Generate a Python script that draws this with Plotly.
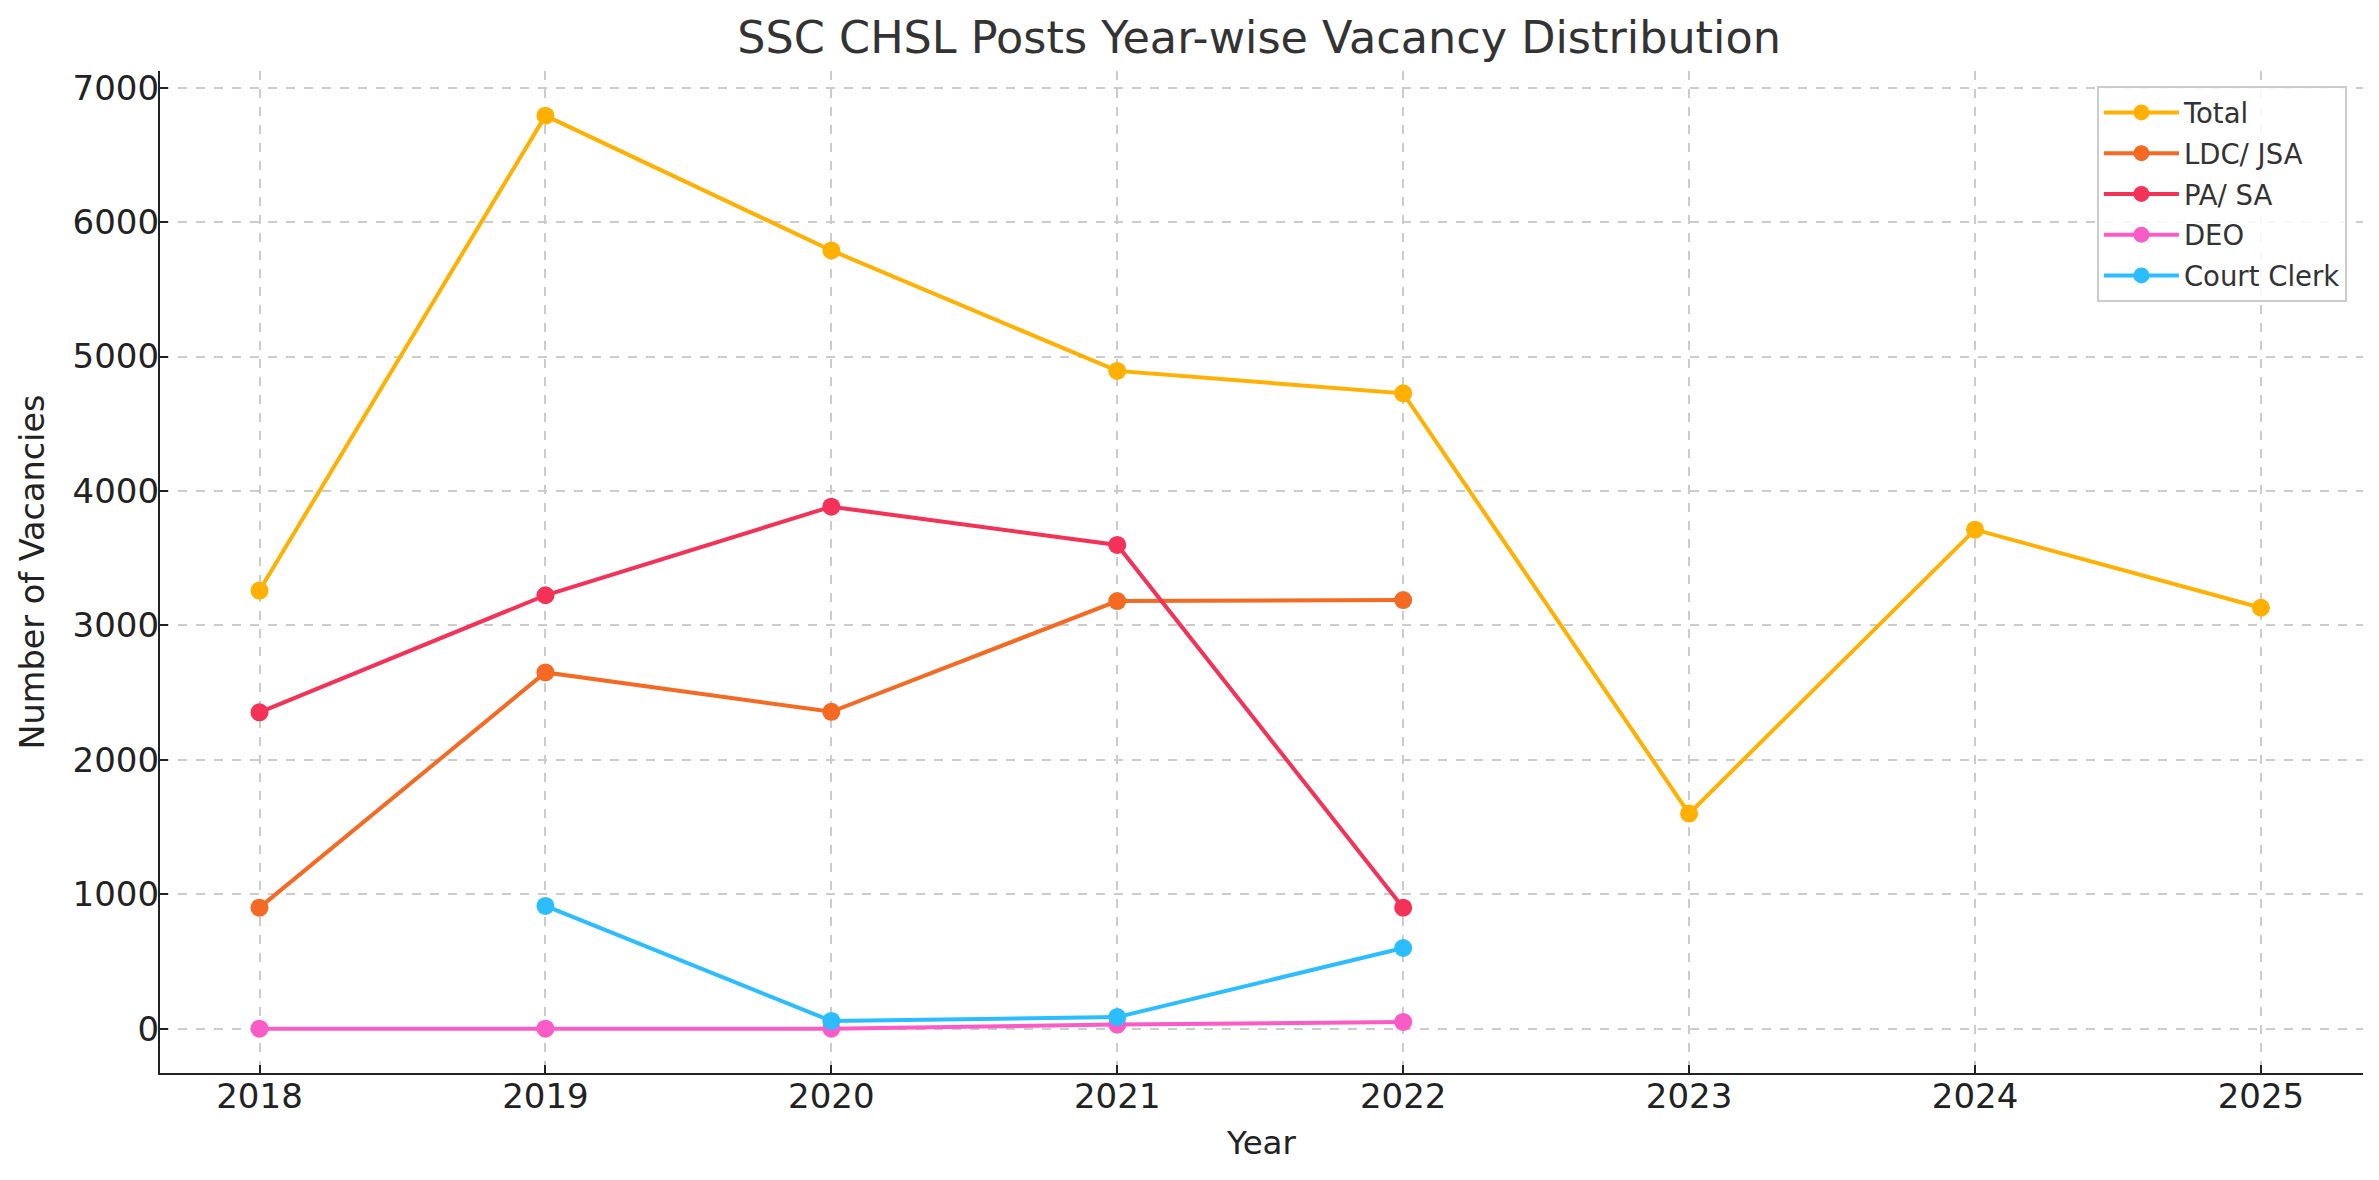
import plotly.graph_objects as go

years = [2018, 2019, 2020, 2021, 2022, 2023, 2024, 2025]
total = [3259, 6792, 5789, 4893, 4726, 1600, 3712, 3131]
ldc_jsa = [900, 2650, 2357, 3181, 3188, None, None, None]
pa_sa = [2353, 3224, 3883, 3598, 900, None, None, None]
deo = [0, 0, 0, 30, 50, None, None, None]
court_clerk = [None, 913, 57, 86, 600, None, None, None]

series_names = ["Total", "LDC/ JSA", "PA/ SA", "DEO", "Court Clerk"]
series_values = [total, ldc_jsa, pa_sa, deo, court_clerk]
colors = ["#FFB000", "#F46A22", "#F43257", "#FA5BC7", "#2BBDFF"]

FONT = "DejaVu Sans"

fig = go.Figure()
for name, vals, col in zip(series_names, series_values, colors):
    fig.add_trace(go.Scatter(
        x=years, y=vals, name=name, mode="lines+markers",
        line=dict(color=col, width=4),
        marker=dict(color=col, size=18),
        connectgaps=False, legendgroup=name,
    ))

axis_common = dict(
    showline=True, linecolor="#222222", linewidth=2.2, mirror=False,
    ticks="inside", ticklen=8, tickwidth=1.5, tickcolor="#222222",
    showgrid=True, gridcolor="#cccccc", gridwidth=1.5, griddash="dash",
    zeroline=False, automargin=False,
    tickfont=dict(family=FONT, size=34, color="#222222"),
)

fig.update_xaxes(
    **axis_common,
    range=[2017.652, 2025.357],
    tickmode="array", tickvals=years, ticktext=[str(y) for y in years],
    title=dict(text="Year", font=dict(family=FONT, size=32.5, color="#222222"), standoff=16),
    ticklabelstandoff=-8,
)
fig.update_yaxes(
    **axis_common,
    range=[-330, 7124],
    tickmode="array", tickvals=[0, 1000, 2000, 3000, 4000, 5000, 6000, 7000],
    title=dict(text="Number of Vacancies", font=dict(family=FONT, size=33.5, color="#222222"), standoff=18),
    ticklabelstandoff=-8,
)

fig.update_layout(
    width=2379, height=1180,
    margin=dict(l=152, r=24, t=63, b=115, autoexpand=False),
    paper_bgcolor="white", plot_bgcolor="white",
    font=dict(family=FONT, color="#333333"),
    title=dict(text="SSC CHSL Posts Year-wise Vacancy Distribution",
               font=dict(family=FONT, size=44.5, color="#333333"),
               x=0.5259, xanchor="center", xref="container",
               y=1 - 29 / 1180, yanchor="middle", yref="container"),
    legend=dict(
        x=0.9927, y=0.985, xanchor="right", yanchor="top",
        bgcolor="rgba(255,255,255,0.85)", bordercolor="#cccccc", borderwidth=2,
        font=dict(family=FONT, size=27.5, color="#333333"),
        itemwidth=75, tracegroupgap=2,
    ),
    showlegend=True,
)

fig.write_html("out.html")
